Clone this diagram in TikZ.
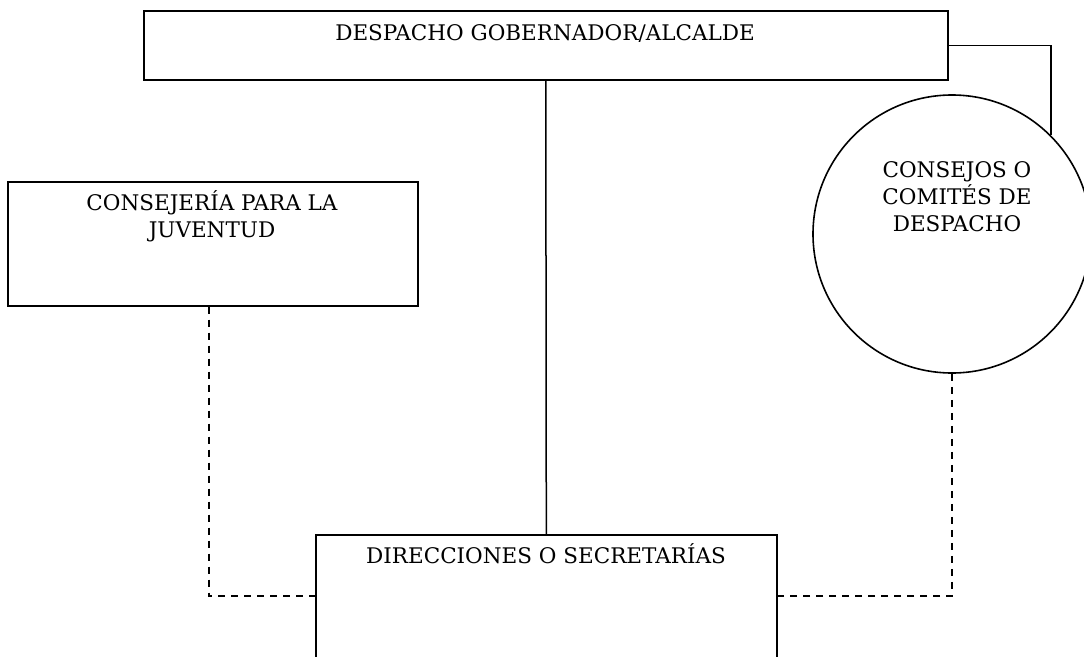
\documentclass[tikz,border=0pt]{standalone}
\usepackage{fontspec}
\setmainfont{DejaVu Serif}
\begin{document}
\begin{tikzpicture}[x=1pt,y=-1pt,
  box/.style={draw, line width=1.6pt, inner sep=0pt, rectangle},
  lbl/.style={font=\fontsize{21.5}{27}\selectfont, align=center, inner sep=0pt},
  link/.style={line width=1.5pt},
  dlink/.style={line width=1.5pt, dash pattern=on 7pt off 6pt}]
\useasboundingbox (0,0) rectangle (1084,656);
\clip (0,0) rectangle (1084,656);
% boxes
\node[box, minimum width=804pt, minimum height=69pt, anchor=north west] (top) at (143,10) {};
\node[box, minimum width=410pt, minimum height=124pt, anchor=north west] (cj) at (7,181) {};
\node[box, minimum width=461pt, minimum height=200pt, anchor=north west] (dir) at (315,534) {};
\node[draw, circle, line width=1.6pt, minimum size=278pt, inner sep=0pt] (cc) at (952,234) {};
% texts
\node[lbl, anchor=base] (toptxt) at (545,40) {DESPACHO GOBERNADOR/ALCALDE};
\node[lbl, anchor=north] (cjtxt) at (212,190) {CONSEJERÍA PARA LA\\JUVENTUD};
\node[lbl, anchor=base] (dirtxt) at (546,563) {DIRECCIONES O SECRETARÍAS};
\node[lbl, anchor=north] (cctxt) at (957,161) {CONSEJOS O\\COMITÉS DE\\DESPACHO};
% connectors
\draw[link] (top.south) -- (dir.north);
\draw[link] (top.east) -| (cc.45);
\draw[dlink] ([xshift=-4pt]cj.south) |- ([yshift=-62pt]dir.north west);
\draw[dlink] (cc.south) |- ([yshift=-62pt]dir.north east);
\end{tikzpicture}
\end{document}
